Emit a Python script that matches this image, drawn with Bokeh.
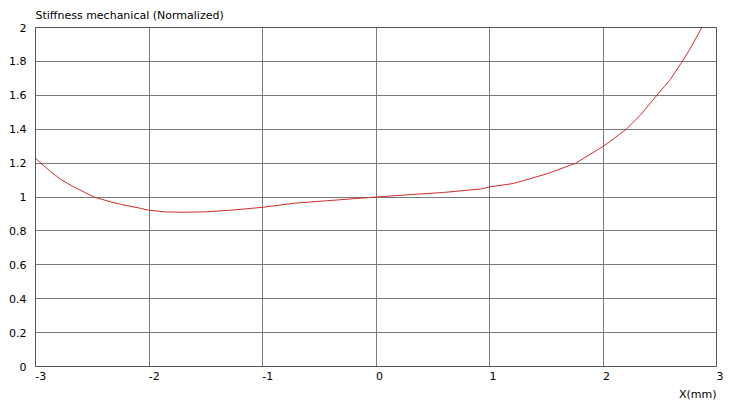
from bokeh.plotting import figure
from bokeh.models import ColumnDataSource, FixedTicker, CustomJSTickFormatter, Title, Range1d
from bokeh.embed import file_html
from bokeh.resources import INLINE

# values
x_mm = [-3.0, -2.953, -2.865, -2.777, -2.689, -2.601, -2.484, -2.337, -2.249, -2.073,
        -2.0, -1.853, -1.7, -1.518, -1.281, -1.0, -0.723, -0.43, 0.0, 0.304,
        0.597, 0.92, 1.0, 1.213, 1.507, 1.756, 2.0, 2.065, 2.211, 2.328,
        2.475, 2.592, 2.695, 2.768, 2.871]
stiffness = [1.228, 1.2, 1.149, 1.104, 1.069, 1.039, 1.0, 0.971, 0.957, 0.933,
             0.922, 0.912, 0.91, 0.912, 0.922, 0.939, 0.963, 0.978, 1.0, 1.014,
             1.027, 1.047, 1.059, 1.08, 1.137, 1.198, 1.298, 1.329, 1.404, 1.482,
             1.6, 1.692, 1.796, 1.875, 2.0]

x_ticks = [-3, -2, -1, 0, 1, 2, 3]
y_ticks = [0, 0.2, 0.4, 0.6, 0.8, 1, 1.2, 1.4, 1.6, 1.8, 2]

FONT = "DejaVu Sans"
GRID = "#7a7a7a"
FRAME = "#555555"

src = ColumnDataSource(data=dict(x=x_mm, y=stiffness))

p = figure(width=729, height=400, output_backend="svg", toolbar_location=None,
           x_range=Range1d(-3, 3), y_range=Range1d(0, 2),
           min_border_left=35, min_border_right=13, min_border_top=26, min_border_bottom=34)

p.line("x", "y", source=src, line_color="#d42a2a", line_width=1)

fmt = CustomJSTickFormatter(code="return String(Math.round(tick * 10) / 10)")
# axis labels are always centred on the tick, so put figure/punctuation
# spaces in front to make them start at the tick like the original
xfmt = CustomJSTickFormatter(code="""
    const s = String(Math.round(tick))
    return tick < 0 ? '\\u2007\\u2008' + s : '\\u2007' + s
""")
for ax, ticks, f in ((p.xaxis, x_ticks, xfmt), (p.yaxis, y_ticks, fmt)):
    ax.ticker = FixedTicker(ticks=ticks)
    ax.formatter = f
    ax.major_tick_out = 0
    ax.major_tick_in = 0
    ax.minor_tick_out = 0
    ax.minor_tick_in = 0
    ax.axis_line_color = FRAME
    ax.major_label_text_font = FONT
    ax.major_label_text_font_size = "11px"
    ax.major_label_text_color = "#000000"

p.xaxis.major_label_standoff = 3
p.yaxis.major_label_standoff = 9

p.xgrid.ticker = FixedTicker(ticks=x_ticks)
p.ygrid.ticker = FixedTicker(ticks=y_ticks)
p.grid.grid_line_color = GRID
p.grid.grid_line_alpha = 1.0
p.outline_line_color = FRAME
p.outline_line_alpha = 1.0

p.title.text = "Stiffness mechanical (Normalized)"
p.title.align = "left"
p.title.text_font = FONT
p.title.text_font_size = "11px"
p.title.text_font_style = "normal"
p.title.text_color = "#000000"
p.title.standoff = 12

p.add_layout(Title(text="X(mm)", align="right", text_font=FONT, text_font_size="11px",
                   text_font_style="normal", text_color="#000000", standoff=0), "below")

open("out.html", "w").write(file_html(p, INLINE))
